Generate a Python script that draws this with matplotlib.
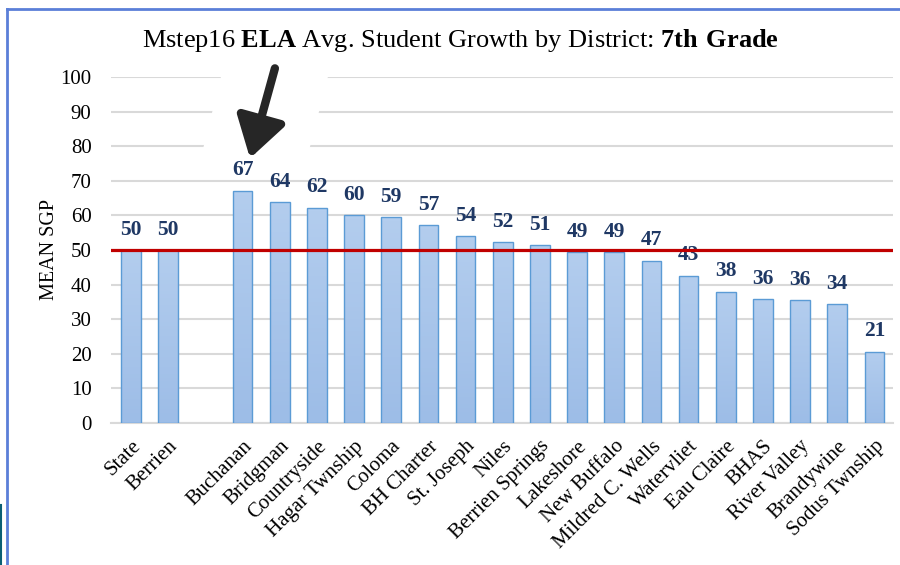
import numpy as np
import matplotlib
matplotlib.use("Agg")
import matplotlib.pyplot as plt
from matplotlib.colors import LinearSegmentedColormap
from matplotlib.lines import Line2D
from matplotlib.patches import Polygon

districts = ["State", "Berrien", "Buchanan", "Bridgman", "Countryside",
             "Hagar Twnship", "Coloma", "BH Charter", "St. Joseph", "Niles",
             "Berrien Springs", "Lakeshore", "New Buffalo", "Mildred C. Wells",
             "Watervliet", "Eau Claire", "BHAS", "River Valley", "Brandywine",
             "Sodus Twnship"]
mean_sgp = [50.0, 50.0, 67.1, 63.9, 62.2, 60.1, 59.4, 57.1, 54.0, 52.3,
            51.4, 49.4, 49.3, 46.9, 42.6, 37.9, 35.8, 35.5, 34.4, 20.6]
state_line = 50
yticks = list(range(0, 101, 10))

plt.rcParams['font.family'] = ['Liberation Serif', 'DejaVu Serif']
plt.rcParams['mathtext.fontset'] = 'custom'
plt.rcParams['mathtext.rm'] = 'Liberation Serif'
plt.rcParams['mathtext.bf'] = 'Liberation Serif:bold'

fig = plt.figure(figsize=(9, 5.65), dpi=100)
ax = fig.add_axes([111 / 900, 1 - 423 / 565, (893 - 111) / 900, (423 - 77) / 565])

# leave an empty slot after the two reference bars
xpos = np.array([i if i < 2 else i + 1 for i in range(len(districts))])

bars = ax.bar(xpos, mean_sgp, width=0.53, color='#a9c6ea',
              edgecolor='#5b9bd5', linewidth=1.0, zorder=3)

# vertical gradient fill inside each bar
grad = LinearSegmentedColormap.from_list('g', ['#9dbde7', '#b3cdee'])
for b in bars:
    x0, y0 = b.get_x(), b.get_y()
    w, h = b.get_width(), b.get_height()
    im = ax.imshow(np.linspace(0, 1, 50).reshape(-1, 1), cmap=grad,
                   extent=[x0, x0 + w, y0, y0 + h], origin='lower',
                   aspect='auto', zorder=3)
    im.set_clip_path(b)
    b.set_facecolor('none')
    b.set_zorder(4)

for x, v in zip(xpos, mean_sgp):
    ax.text(x, v + 3.0, f"{v:.0f}", ha='center', va='bottom',
            fontsize=15.5, fontweight='bold', color='#1f3864', zorder=5)

ax.axhline(state_line, color='#c00000', linewidth=2.3, zorder=6)

ax.set_xlim(-0.54, 20.5)
ax.set_ylim(0, 100)
ax.set_yticks(yticks)
ax.set_xticks(xpos)
ax.set_xticklabels(districts, rotation=45, ha='right', va='top',
                   rotation_mode='anchor', fontsize=15)
ax.tick_params(axis='both', length=0, labelsize=15)
ax.tick_params(axis='x', pad=10)
ax.tick_params(axis='y', pad=14)
ax.grid(axis='y', color='#d9d9d9', linewidth=1.5, zorder=0)
ax.set_axisbelow(True)
for s in ['top', 'right', 'left']:
    ax.spines[s].set_visible(False)
ax.spines['bottom'].set_color('#d9d9d9')
ax.spines['bottom'].set_linewidth(1.5)
ax.set_ylabel("MEAN SGP", fontsize=14.5, labelpad=1)

# white pasted patch behind the arrow that hides the gridlines
ax.add_patch(Polygon([(2.51, 104), (5.39, 104), (4.71, 75.5), (1.85, 75.5)],
                     closed=True, facecolor='white', edgecolor='none',
                     zorder=1, clip_on=False))
ax.annotate("", xy=(3.2, 76.5), xytext=(3.87, 102.5),
            arrowprops=dict(arrowstyle='-|>,head_length=2.4,head_width=1.5',
                            color='#262626', linewidth=6, shrinkA=0, shrinkB=0),
            zorder=7, annotation_clip=False)

fig.text(460 / 900, 1 - 41 / 565,
         r"Mstep16 $\mathbf{ELA}$ Avg. Student Growth by District: $\mathbf{7th\ Grade}$",
         ha='center', va='center', fontsize=19)

# blue frame of the original slide
fig.add_artist(Line2D([7 / 900, 7 / 900], [0, 1 - 9 / 565],
                      color='#5b7fd8', linewidth=2, transform=fig.transFigure))
fig.add_artist(Line2D([7 / 900, 1], [1 - 9 / 565, 1 - 9 / 565],
                      color='#5b7fd8', linewidth=2, transform=fig.transFigure))
fig.add_artist(Line2D([1 / 900, 1 / 900], [0, 1 - 505 / 565],
                      color='#0b5f75', linewidth=1.5, transform=fig.transFigure))

fig.savefig("out.png", dpi=100)
